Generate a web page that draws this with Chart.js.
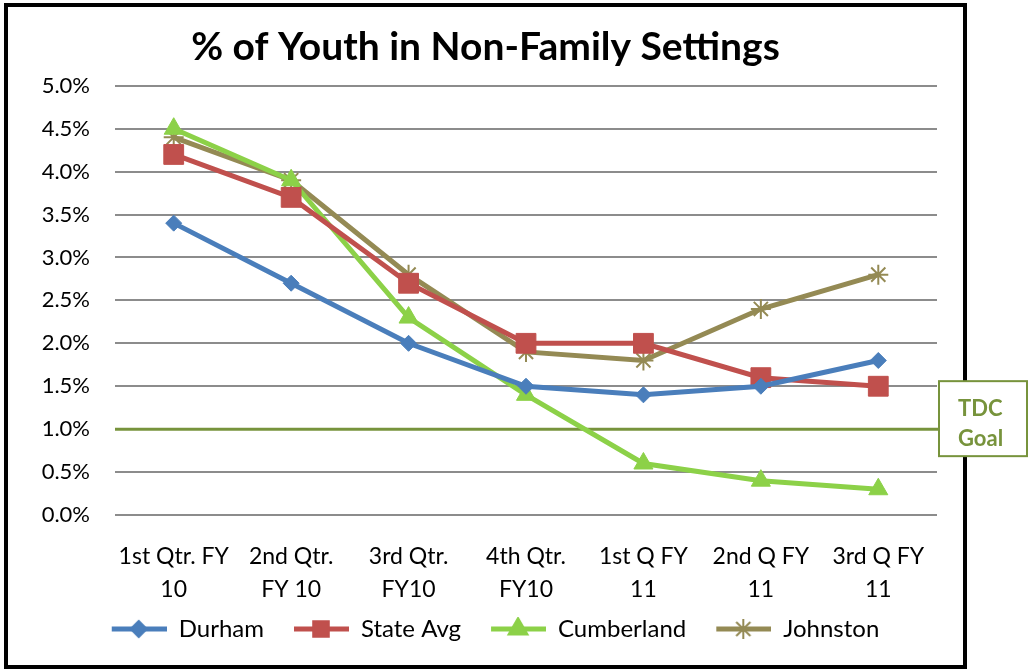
<!DOCTYPE html>
<html>
<head>
<meta charset="utf-8">
<script src="https://cdn.jsdelivr.net/npm/chart.js@4"></script>
<style>
  body { margin: 0; background: #fff; }
  #wrap { width: 1028px; height: 669px; }
</style>
</head>
<body>
<div id="wrap"><canvas id="youthChart" width="1028" height="669"></canvas></div>
<script>
const quarters = [
  ["1st Qtr. FY", "10"],
  ["2nd Qtr.", "FY 10"],
  ["3rd Qtr.", "FY10"],
  ["4th Qtr.", "FY10"],
  ["1st Q FY", "11"],
  ["2nd Q FY", "11"],
  ["3rd Q FY", "11"],
];
const durham = [3.4, 2.7, 2.0, 1.5, 1.4, 1.5, 1.8];
const stateAvg = [4.2, 3.7, 2.7, 2.0, 2.0, 1.6, 1.5];
const cumberland = [4.5, 3.9, 2.3, 1.4, 0.6, 0.4, 0.3];
const johnston = [4.4, 3.9, 2.8, 1.9, 1.8, 2.4, 2.8];
const goalValue = 1.0;
const goalLabel = ["TDC", "Goal"];

const FONT = "Lato, 'Open Sans', sans-serif";
const goalColor = "#77933C";

// line + marker picture for the legend (left part left blank as spacing)
function makeIcon(color, style, radius) {
  const c = document.createElement("canvas");
  c.width = 75;
  c.height = 24;
  const g = c.getContext("2d");
  g.strokeStyle = color;
  g.fillStyle = color;
  g.lineWidth = 5;
  g.beginPath();
  g.moveTo(20, 12);
  g.lineTo(75, 12);
  g.stroke();
  g.lineWidth = 2;
  Chart.helpers.drawPoint(g, { pointStyle: style, radius: radius, borderWidth: 2 }, 47, 12);
  return c;
}

const series = [
  { label: "Durham", data: durham, color: "#4A7EBB", style: "rectRot", radius: 8 },
  { label: "State Avg", data: stateAvg, color: "#C0504D", style: "rect", radius: 14 },
  { label: "Cumberland", data: cumberland, color: "#8CD148", style: "triangle", radius: 11 },
  { label: "Johnston", data: johnston, color: "#948A54", style: "star", radius: 10 },
];

const decorPlugin = {
  id: "decor",
  beforeDraw(chart) {
    const ctx = chart.ctx;
    ctx.save();
    ctx.fillStyle = "#fff";
    ctx.fillRect(0, 0, chart.width, chart.height);
    ctx.restore();
  },
  beforeDatasetsDraw(chart) {
    const ctx = chart.ctx;
    const y = chart.scales.y.getPixelForValue(goalValue);
    ctx.save();
    ctx.strokeStyle = goalColor;
    ctx.lineWidth = 3;
    ctx.beginPath();
    ctx.moveTo(chart.chartArea.left, y);
    ctx.lineTo(chart.width, y);
    ctx.stroke();
    ctx.restore();
  },
  afterDraw(chart) {
    const ctx = chart.ctx;
    const y = chart.scales.y.getPixelForValue(goalValue);
    ctx.save();
    // outer chart border
    ctx.strokeStyle = "#000";
    ctx.lineWidth = 4;
    ctx.strokeRect(6, 5, 959, 662);
    // goal box
    const bx = chart.chartArea.right + 2;
    const bw = chart.width - bx - 1;
    ctx.fillStyle = "#fff";
    ctx.fillRect(bx, y - 48, bw, 75);
    ctx.strokeStyle = goalColor;
    ctx.lineWidth = 2;
    ctx.strokeRect(bx, y - 48, bw, 75);
    ctx.fillStyle = goalColor;
    ctx.font = "bold 22px " + FONT;
    ctx.textBaseline = "middle";
    ctx.fillText(goalLabel[0], bx + 19, y - 20);
    ctx.fillText(goalLabel[1], bx + 19, y + 10);
    ctx.restore();
  },
};

const ctx = document.getElementById("youthChart").getContext("2d");
const youthChart = new Chart(ctx, {
  type: "line",
  data: {
    labels: quarters,
    datasets: series.map((s) => ({
      label: s.label,
      data: s.data,
      borderColor: s.color,
      backgroundColor: s.color,
      borderWidth: 5,
      pointStyle: s.style,
      pointRadius: s.radius,
      pointBorderWidth: s.style === "star" ? 2 : 1,
      pointBorderColor: s.color,
      pointBackgroundColor: s.color,
      tension: 0,
      fill: false,
    })),
  },
  options: {
    responsive: false,
    animation: false,
    layout: {
      padding: { top: 12, right: 91, bottom: 18, left: 34 },
    },
    plugins: {
      title: {
        display: true,
        text: "% of Youth in Non-Family Settings",
        color: "#000",
        font: { family: FONT, size: 39, weight: "bold", lineHeight: 1.2 },
        padding: { top: 12, bottom: 15 },
      },
      legend: {
        position: "bottom",
        labels: {
          color: "#000",
          font: { family: FONT, size: 24 },
          usePointStyle: true,
          pointStyleWidth: 75,
          padding: 10,
          generateLabels(chart) {
            return series.map((s, i) => ({
              text: s.label,
              fillStyle: s.color,
              strokeStyle: s.color,
              fontColor: "#000",
              lineWidth: 0,
              pointStyle: makeIcon(s.color, s.style, s.style === "rect" ? s.radius - 3 : s.radius),
              datasetIndex: i,
              hidden: false,
            }));
          },
        },
      },
      tooltip: { enabled: false },
    },
    scales: {
      x: {
        offset: true,
        afterFit(scale) {
          scale.height = 92;
        },
        grid: { display: false, drawTicks: false },
        border: { display: false },
        ticks: {
          color: "#000",
          font: { family: FONT, size: 23, lineHeight: 1.45 },
          maxRotation: 0,
          autoSkip: false,
          padding: 25,
        },
      },
      y: {
        min: 0,
        max: 5,
        afterFit(scale) {
          scale.width = 81;
        },
        grid: { color: "#8C8C8C", lineWidth: 2, drawTicks: false },
        border: { display: false },
        ticks: {
          stepSize: 0.5,
          color: "#000",
          font: { family: FONT, size: 22 },
          padding: 25,
          callback: (v) => v.toFixed(1) + "%",
        },
      },
    },
  },
  plugins: [decorPlugin],
});
</script>
</body>
</html>
